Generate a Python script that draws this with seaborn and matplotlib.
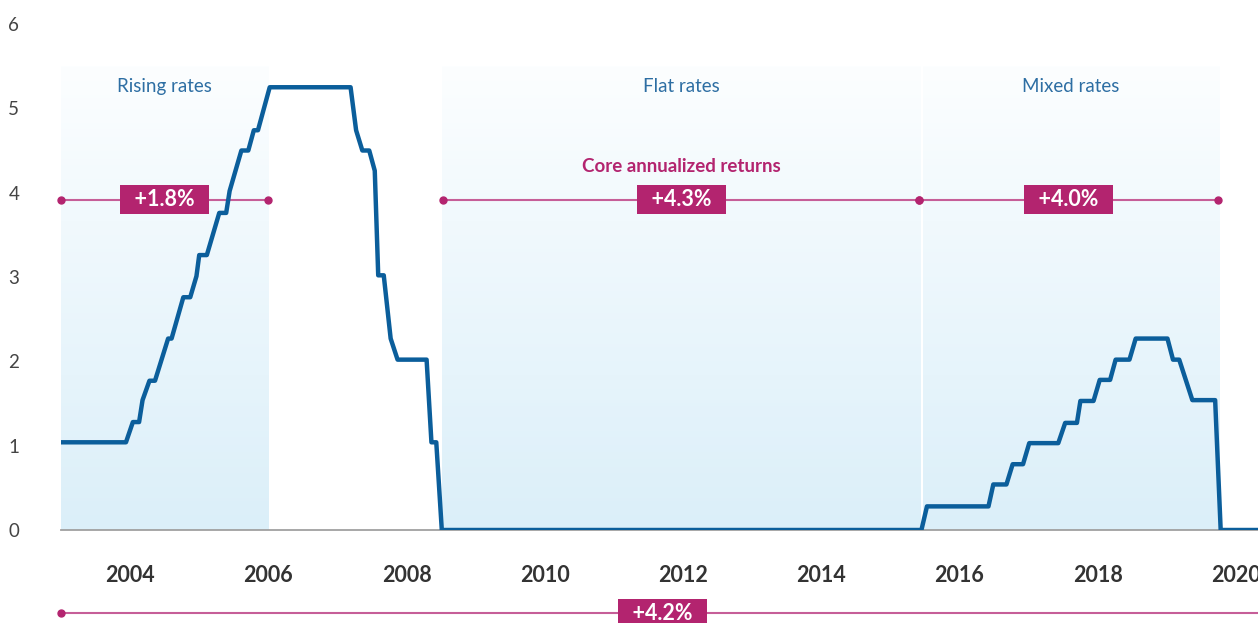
import numpy as np
import pandas as pd
import seaborn as sns
import matplotlib.pyplot as plt
from matplotlib.colors import LinearSegmentedColormap

# Fed funds rate path (year, percent)
years = [2003.0, 2003.94, 2004.04, 2004.13, 2004.18, 2004.28, 2004.36, 2004.55, 2004.60,
         2004.77, 2004.87, 2004.96, 2005.00, 2005.11, 2005.29, 2005.39, 2005.44, 2005.61,
         2005.71, 2005.79, 2005.85, 2006.02, 2007.19, 2007.27, 2007.36, 2007.46, 2007.54,
         2007.59, 2007.67, 2007.77, 2007.87, 2008.29, 2008.36, 2008.43, 2008.51, 2015.45,
         2015.53, 2016.42, 2016.49, 2016.68, 2016.77, 2016.92, 2017.01, 2017.43, 2017.53,
         2017.70, 2017.75, 2017.94, 2018.03, 2018.18, 2018.26, 2018.46, 2018.55, 2019.01,
         2019.09, 2019.18, 2019.37, 2019.70, 2019.78, 2020.40]
rates = [1.04, 1.04, 1.28, 1.28, 1.54, 1.77, 1.77, 2.27, 2.27,
         2.76, 2.76, 3.01, 3.26, 3.26, 3.76, 3.76, 4.02, 4.50,
         4.50, 4.74, 4.74, 5.25, 5.25, 4.74, 4.50, 4.50, 4.26,
         3.02, 3.02, 2.27, 2.02, 2.02, 1.04, 1.04, 0.0, 0.0,
         0.28, 0.28, 0.54, 0.54, 0.78, 0.78, 1.03, 1.03, 1.27,
         1.27, 1.53, 1.53, 1.78, 1.78, 2.02, 2.02, 2.27, 2.27,
         2.02, 2.02, 1.54, 1.54, 0.0, 0.0]

# Rate regimes
regime_names = ["Rising rates", "Flat rates", "Mixed rates"]
regime_start = [2003.0, 2008.51, 2015.47]
regime_end = [2006.0, 2015.43, 2019.76]

# Core annualized returns per regime, and for the whole period
regime_returns = ["+1.8%", "+4.3%", "+4.0%"]
return_start = [2003.0, 2008.53, 2015.42]
return_end = [2006.0, 2015.42, 2019.74]
total_return = "+4.2%"
total_start, total_end = 2003.0, 2020.4

year_ticks = list(range(2003, 2021))
year_labels = [str(y) if y % 2 == 0 else "" for y in year_ticks]
y_ticks = [0, 1, 2, 3, 4, 5, 6]

df = pd.DataFrame({"year": years, "rate": rates})

sns.set_style("white")
plt.rcParams["font.family"] = ["Lato", "DejaVu Sans"]

fig = plt.figure(figsize=(12.58, 6.23), dpi=100)
ax = fig.add_axes([61 / 1258, 93 / 623, 1197 / 1258, 506 / 623])

blue = "#0b5e9b"
magenta = "#b3246f"
magenta_line = "#c65e98"
label_blue = "#2d6ea3"

# gradient backgrounds
grad = LinearSegmentedColormap.from_list("g", ["#dbeff9", "#fcfeff"])
shade_top = 5.5
for x0, x1 in zip(regime_start, regime_end):
    ax.imshow(np.linspace(1, 0, 256).reshape(-1, 1), cmap=grad, vmin=0, vmax=1,
              extent=[x0, x1, 0, shade_top], aspect="auto", zorder=0,
              interpolation="bilinear")

sns.lineplot(data=df, x="year", y="rate", estimator=None, sort=False,
             color=blue, lw=3.2, ax=ax, zorder=5, solid_joinstyle="round")

for name, x0, x1 in zip(regime_names, regime_start, regime_end):
    ax.text((x0 + x1) / 2, 5.26, name, color=label_blue, fontsize=13.5,
            ha="center", va="center", zorder=6)

box = dict(boxstyle="square,pad=0.18", fc=magenta, ec="none")
ret_y = 3.915
for lab, x0, x1 in zip(regime_returns, return_start, return_end):
    ax.plot([x0, x1], [ret_y, ret_y], color=magenta_line, lw=1.5, zorder=3)
    ax.plot([x0, x1], [ret_y, ret_y], "o", color=magenta, ms=5, zorder=4, clip_on=False)
    ax.text((x0 + x1) / 2, ret_y, f"  {lab}  ", color="white", fontsize=15.5,
            fontweight="bold", ha="center", va="center", bbox=box, zorder=4)

ax.text(2011.97, 4.31, "Core annualized returns", color=magenta, fontsize=13.5,
        fontweight="bold", ha="center", va="center", zorder=6)

tot_y = -0.985
ax.plot([total_start, total_end], [tot_y, tot_y], color=magenta_line, lw=1.5,
        clip_on=False, zorder=3)
ax.plot([total_start], [tot_y], "o", color=magenta, ms=5, clip_on=False, zorder=4)
ax.text((total_start + total_end) / 2, tot_y, f"  {total_return}  ", color="white",
        fontsize=15.5, fontweight="bold", ha="center", va="center", bbox=box,
        clip_on=False, zorder=4)

ax.set_xlim(2003.0, 2020.32)
ax.set_ylim(0, 6)
ax.set_xticks(year_ticks)
ax.set_xticklabels(year_labels, fontsize=15.5, fontweight="bold", color="#333333")
ax.set_yticks(y_ticks)
ax.set_yticklabels([str(v) for v in y_ticks], fontsize=13.5, color="#444444")
ax.tick_params(axis="x", length=9, width=1.3, color="#a0a0a0", pad=16, direction="out")
ax.tick_params(axis="y", length=0, pad=30)
ax.set_xlabel("")
ax.set_ylabel("")
for s in ["left", "top", "right"]:
    ax.spines[s].set_visible(False)
ax.spines["bottom"].set_color("#a0a0a0")
ax.spines["bottom"].set_linewidth(1.3)
ax.spines["bottom"].set_zorder(2)

fig.savefig("out.png", dpi=100)
